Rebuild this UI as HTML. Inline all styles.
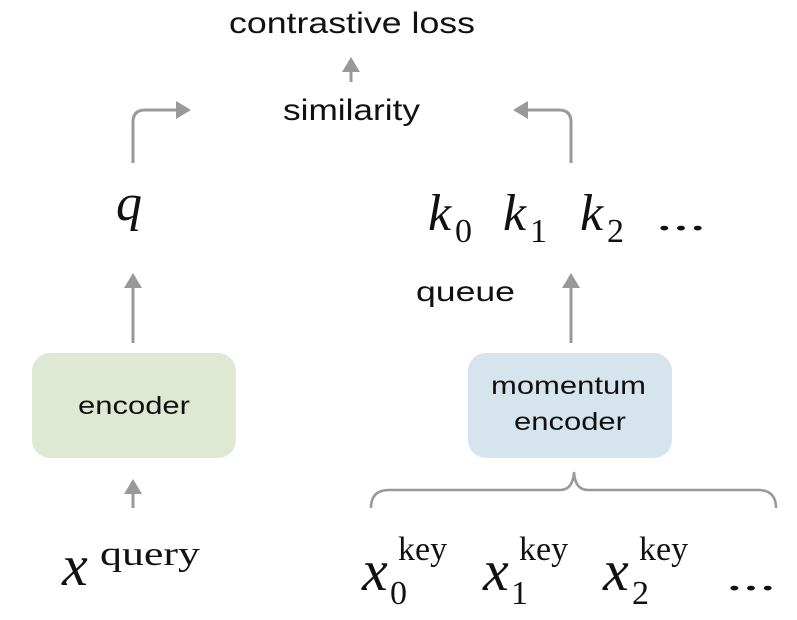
<!DOCTYPE html>
<html><head><style>html,body{margin:0;padding:0;background:#fff}svg{display:block}</style></head>
<body>
<svg width="797" height="620" viewBox="0 0 797 620" xmlns="http://www.w3.org/2000/svg">
<defs>
<marker id="a" markerWidth="6" markerHeight="6" refX="4" refY="3" orient="auto" markerUnits="strokeWidth">
<path d="M0,0 L5,3 L0,6 Z" fill="#999"/>
</marker>
</defs>
<rect x="32" y="353" width="204" height="105" rx="18" fill="#dfe8d3"/>
<rect x="468" y="353" width="204" height="105" rx="18" fill="#d6e4ee"/>
<g font-family="Liberation Sans, sans-serif" fill="#111">
<text x="229" y="33" font-size="30" textLength="246" lengthAdjust="spacingAndGlyphs">contrastive loss</text>
<text x="283" y="120" font-size="30" textLength="137" lengthAdjust="spacingAndGlyphs">similarity</text>
<text x="416" y="301" font-size="28" textLength="99" lengthAdjust="spacingAndGlyphs">queue</text>
<text x="78" y="414" font-size="25" textLength="112" lengthAdjust="spacingAndGlyphs">encoder</text>
<text x="491" y="394" font-size="25" textLength="155" lengthAdjust="spacingAndGlyphs">momentum</text>
<text x="514" y="430" font-size="25" textLength="112" lengthAdjust="spacingAndGlyphs">encoder</text>
</g>
<g stroke="#999" stroke-width="3" fill="none">
<line x1="351" y1="82" x2="351" y2="60" marker-end="url(#a)"/>
<path d="M133,163 V122 Q133,110 145,110 H188" marker-end="url(#a)"/>
<path d="M571,163 V122 Q571,110 559,110 H516" marker-end="url(#a)"/>
<line x1="133" y1="343" x2="133" y2="276" marker-end="url(#a)"/>
<line x1="571" y1="343" x2="571" y2="276" marker-end="url(#a)"/>
<line x1="133" y1="508" x2="133" y2="482" marker-end="url(#a)"/>
<path d="M371,508 Q371,490 389,490 H560 Q573,490 574,472 Q575,490 588,490 H758 Q776,490 776,508" stroke-width="2.5"/>
</g>
<g font-family="Liberation Serif, serif" fill="#111" font-style="italic">
<text x="116" y="220" font-size="52">q</text>
<text x="428" y="230" font-size="52">k</text>
<text x="503" y="230" font-size="52">k</text>
<text x="580" y="230" font-size="52">k</text>
<text x="62" y="585" font-size="58">x</text>
<text x="362" y="590" font-size="58">x</text>
<text x="483" y="590" font-size="58">x</text>
<text x="603" y="590" font-size="58">x</text>
</g>
<g font-family="Liberation Serif, serif" fill="#111">
<text x="455" y="242" font-size="34">0</text>
<text x="530" y="242" font-size="34">1</text>
<text x="607" y="242" font-size="34">2</text>
<text x="656" y="230" font-size="40" textLength="50" lengthAdjust="spacingAndGlyphs">...</text>
<text x="100" y="565" font-size="34" textLength="100" lengthAdjust="spacingAndGlyphs">query</text>
<text x="398" y="560" font-size="34">key</text>
<text x="519" y="560" font-size="34">key</text>
<text x="639" y="560" font-size="34">key</text>
<text x="390" y="604" font-size="34">0</text>
<text x="511" y="604" font-size="34">1</text>
<text x="632" y="604" font-size="34">2</text>
<text x="726" y="590" font-size="40" textLength="50" lengthAdjust="spacingAndGlyphs">...</text>
</g>
</svg>
</body></html>
